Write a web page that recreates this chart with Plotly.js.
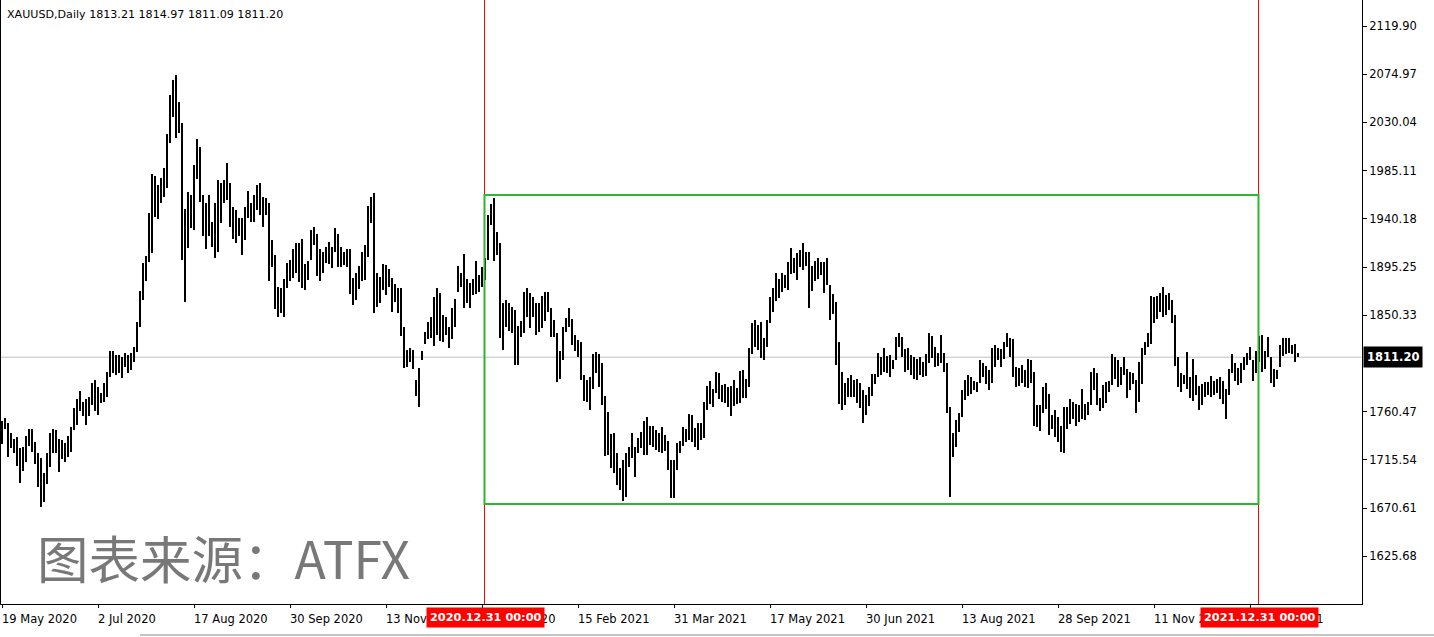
<!DOCTYPE html>
<html><head><meta charset="utf-8">
<script src="https://cdn.plot.ly/plotly-3.0.1.min.js"></script>
<style>html,body{margin:0;padding:0;background:#fff;overflow:hidden}#chart{width:1434px;height:637px}</style>
</head><body><div id="chart"></div>
<script>
// Daily XAUUSD bars, index 0 = 19 May 2020 ... 432 = latest bar
const highs = [
1752.0,1754.8,1749.5,1740.8,1735.2,1736.5,1726.2,1727.8,1737.7,1744.6,
1744.6,1732.4,1722.2,1716.9,1702.9,1721.6,1740.8,1744.6,1743.3,1735.2,
1734.0,1730.9,1737.7,1746.4,1763.5,1771.9,1780.0,1769.4,1772.5,1773.8,
1786.8,1789.9,1783.7,1778.1,1787.4,1797.4,1817.3,1816.6,1813.5,1813.5,
1811.7,1814.8,1813.2,1815.4,1821.0,1844.3,1872.9,1898.7,1905.5,1945.3,
1982.0,1980.1,1971.4,1977.9,1987.2,2019.2,2055.6,2069.6,2073.9,2049.4,
2029.2,1949.0,1965.5,1962.4,1990.0,2014.9,2006.8,1962.4,1955.2,1962.4,
1937.5,1954.6,1976.3,1973.2,1976.3,1992.5,1973.2,1951.2,1948.4,1940.6,
1940.6,1950.9,1965.8,1954.6,1962.1,1971.4,1973.3,1960.2,1959.6,1954.6,
1920.5,1906.2,1876.3,1875.4,1883.8,1898.7,1901.8,1911.8,1918.0,1918.0,
1921.1,1898.1,1901.2,1929.8,1932.3,1926.0,1912.4,1909.6,1914.2,1918.6,
1914.2,1931.3,1926.0,1914.2,1909.6,1911.8,1911.8,1884.7,1889.4,1896.1,
1909.5,1915.4,1952.1,1960.8,1964.5,1889.9,1886.2,1898.0,1897.1,1893.0,
1884.6,1879.4,1875.3,1875.3,1839.6,1817.8,1819.4,1817.8,1789.9,1800.8,
1817.2,1834.9,1844.3,1848.9,1867.6,1875.3,1870.7,1850.5,1848.9,1839.6,
1856.7,1865.1,1896.1,1889.3,1907.3,1883.7,1880.0,1883.7,1901.1,1887.7,
1894.9,1903.3,1943.7,1953.9,1959.2,1928.1,1917.3,1862.0,1864.4,1862.0,
1858.2,1855.0,1840.0,1845.0,1872.2,1875.3,1870.7,1867.6,1861.3,1862.0,
1868.0,1872.0,1872.2,1856.7,1845.8,1834.0,1817.0,1839.6,1847.4,1856.7,
1847.0,1832.0,1827.2,1825.6,1794.6,1789.9,1792.4,1814.1,1816.3,1814.1,
1805.4,1775.0,1760.4,1739.6,1740.8,1721.6,1707.6,1715.3,1721.6,1727.1,
1740.8,1727.8,1735.5,1741.8,1752.0,1755.7,1747.0,1747.0,1743.3,1740.2,
1745.8,1738.6,1733.4,1715.3,1715.3,1730.9,1733.4,1746.0,1743.9,1758.5,
1757.3,1744.8,1749.5,1749.5,1769.7,1784.3,1789.3,1781.2,1797.7,1796.7,
1785.2,1786.2,1783.7,1784.3,1789.9,1782.1,1798.6,1799.2,1790.5,1819.4,
1842.7,1845.8,1841.2,1844.3,1828.7,1845.8,1867.6,1875.3,1889.9,1883.7,
1889.3,1887.8,1900.2,1912.6,1903.8,1908.0,1911.1,1917.3,1909.5,1909.5,
1896.1,1901.1,1903.3,1900.2,1900.2,1903.3,1878.4,1870.0,1862.9,1825.6,
1797.7,1786.8,1791.4,1794.5,1789.9,1790.5,1786.8,1780.6,1775.9,1783.0,
1795.5,1795.5,1814.7,1811.6,1819.4,1812.3,1813.2,1808.5,1830.3,1834.0,
1830.0,1819.0,1820.0,1813.3,1811.7,1809.2,1811.7,1807.0,1814.0,1833.5,
1831.0,1821.0,1814.8,1831.9,1815.0,1805.5,1764.5,1740.7,1752.7,1758.9,
1780.6,1790.0,1794.6,1792.5,1789.0,1788.4,1808.6,1806.1,1803.0,1799.3,
1819.5,1822.6,1819.5,1818.6,1825.0,1834.1,1828.8,1827.9,1802.4,1800.8,
1804.0,1799.3,1809.2,1808.6,1797.7,1766.7,1766.7,1783.1,1786.9,1776.9,
1757.3,1762.0,1755.2,1747.1,1764.5,1764.5,1771.9,1769.8,1767.6,1766.7,
1781.3,1767.6,1769.8,1797.7,1800.8,1796.8,1772.9,1785.3,1788.4,1789.3,
1814.2,1811.1,1808.6,1802.0,1811.1,1800.3,1797.2,1796.7,1789.9,1807.0,
1819.4,1825.6,1833.4,1868.2,1867.6,1868.2,1870.7,1876.3,1869.1,1870.7,
1864.5,1850.5,1811.6,1796.7,1794.5,1816.3,1793.0,1809.2,1794.5,1784.3,
1786.2,1788.3,1788.3,1793.6,1789.3,1790.5,1792.4,1788.8,1781.3,1799.8,
1814.5,1805.5,1801.2,1805.5,1811.1,1814.8,1820.4,1808.6,1817.3,1831.0,
1831.9,1817.3,1830.4,1811.7,1799.9,1799.3,1822.6,1828.8,1828.8,1828.8,
1822.6,1823.5,1814.97];
const lows = [
1730.0,1743.9,1718.5,1726.2,1721.6,1709.8,1694.2,1705.4,1713.8,1728.4,
1723.1,1711.6,1690.5,1671.2,1676.5,1693.0,1708.5,1722.2,1722.2,1704.5,
1716.6,1713.8,1718.5,1722.8,1743.3,1748.0,1761.3,1756.7,1747.7,1756.4,
1766.6,1761.3,1757.3,1768.2,1769.7,1773.8,1792.4,1796.1,1794.3,1796.1,
1791.5,1802.3,1796.1,1799.3,1807.0,1816.3,1839.6,1864.5,1882.5,1900.2,
1908.0,1941.6,1939.7,1955.2,1960.8,1968.6,2010.5,2035.4,2015.8,2019.8,
1901.8,1862.6,1912.7,1931.3,1929.7,1977.0,1956.2,1924.1,1911.7,1924.1,
1914.2,1903.3,1909.6,1935.9,1954.6,1957.7,1932.8,1921.0,1917.5,1924.3,
1906.5,1920.5,1940.6,1936.9,1936.9,1948.4,1943.8,1932.9,1943.8,1882.2,
1895.0,1855.8,1848.4,1852.7,1848.4,1875.4,1882.5,1884.7,1889.4,1881.6,
1875.4,1873.9,1883.2,1901.8,1915.8,1886.9,1882.5,1889.4,1898.7,1898.1,
1894.0,1909.6,1895.6,1895.0,1897.2,1895.0,1870.1,1859.9,1864.5,1874.4,
1882.5,1883.1,1904.2,1935.9,1852.0,1858.2,1861.3,1873.8,1869.1,1876.9,
1853.6,1862.9,1852.6,1830.9,1800.8,1801.7,1807.0,1799.8,1775.0,1765.0,
1808.5,1823.4,1827.8,1828.7,1821.6,1831.8,1826.5,1825.6,1831.8,1819.4,
1827.8,1839.6,1872.2,1876.9,1856.7,1861.3,1856.7,1869.1,1870.0,1872.2,
1876.3,1883.1,1901.7,1934.4,1901.1,1906.4,1828.7,1817.5,1839.6,1836.0,
1834.0,1803.9,1804.0,1830.0,1834.0,1848.3,1838.0,1848.9,1831.8,1835.0,
1838.0,1845.0,1853.6,1830.3,1830.3,1788.0,1791.0,1808.5,1834.9,1839.6,
1823.0,1817.0,1811.7,1789.9,1770.6,1769.7,1762.0,1781.2,1796.1,1783.7,
1766.6,1719.1,1720.0,1707.6,1702.9,1692.0,1687.4,1677.4,1680.5,1709.1,
1716.9,1699.8,1722.2,1726.2,1720.0,1720.0,1729.3,1727.8,1724.7,1723.1,
1722.2,1724.0,1706.0,1679.6,1679.6,1706.0,1722.2,1728.0,1732.0,1734.0,
1732.4,1727.7,1724.6,1733.9,1735.5,1761.9,1767.5,1765.0,1777.5,1771.9,
1769.7,1768.8,1765.0,1756.3,1765.7,1767.5,1768.8,1772.8,1772.8,1783.7,
1814.1,1820.3,1817.8,1810.1,1808.5,1820.3,1843.3,1853.6,1863.8,1866.0,
1872.2,1875.3,1873.8,1888.5,1889.9,1882.8,1895.2,1892.4,1896.1,1856.7,
1873.1,1882.5,1883.7,1887.8,1870.7,1878.4,1845.8,1851.4,1803.9,1767.5,
1761.9,1766.6,1773.7,1774.4,1774.4,1768.1,1763.5,1750.1,1757.3,1765.7,
1775.0,1786.2,1793.0,1794.5,1797.7,1796.1,1792.4,1799.8,1808.5,1820.3,
1811.0,1797.0,1799.0,1794.6,1790.6,1790.0,1794.6,1792.5,1794.0,1806.1,
1810.2,1801.8,1803.0,1806.1,1797.5,1759.5,1680.5,1718.5,1727.2,1741.8,
1755.8,1771.3,1775.1,1776.9,1780.6,1779.0,1786.9,1792.5,1786.2,1780.6,
1786.9,1802.4,1808.6,1802.4,1809.2,1821.0,1811.7,1792.5,1783.8,1784.4,
1787.5,1783.8,1782.2,1786.9,1747.1,1746.5,1742.7,1759.5,1762.6,1738.7,
1744.0,1737.1,1732.5,1723.2,1722.2,1744.0,1749.0,1753.3,1747.1,1751.1,
1753.3,1752.7,1757.3,1766.7,1780.6,1766.7,1761.4,1763.6,1768.2,1779.1,
1785.3,1790.6,1783.8,1785.0,1795.0,1773.3,1780.6,1786.2,1759.4,1769.7,
1786.2,1813.2,1821.0,1823.5,1842.7,1846.4,1853.6,1848.9,1850.5,1855.1,
1842.7,1802.9,1783.1,1779.0,1786.2,1781.2,1772.8,1770.6,1775.9,1761.9,
1766.6,1774.4,1775.9,1773.7,1775.9,1777.5,1771.9,1767.4,1753.3,1775.9,
1796.7,1789.1,1785.7,1787.5,1799.3,1804.0,1808.6,1789.3,1796.8,1807.1,
1797.7,1799.9,1811.7,1786.9,1783.1,1790.6,1801.8,1812.3,1814.2,1814.8,
1814.2,1807.1,1811.09];

const xTickIdx  = [0,32,64,96,128,160,192,224,256,288,320,352,384,416];
const xTickText = ["19 May 2020","2 Jul 2020","17 Aug 2020","30 Sep 2020","13 Nov 2020","30 Dec 2020",
                   "15 Feb 2021","31 Mar 2021","17 May 2021","30 Jun 2021","13 Aug 2021","28 Sep 2021",
                   "11 Nov 2021","28 Dec 2021"];
const yTickVals = [2119.90,2074.97,2030.04,1985.11,1940.18,1895.25,1850.33,1760.47,1715.54,1670.61,1625.68];
const yTickText = ["2119.90","2074.97","2030.04","1985.11","1940.18","1895.25","1850.33","1760.47","1715.54","1670.61","1625.68"];
const headerText = "XAUUSD,Daily 1813.21 1814.97 1811.09 1811.20";
const bidPrice = 1811.20;
const bidText = "1811.20";
const vlineIdx  = [161, 419];
const vlineText = ["2020.12.31 00:00", "2021.12.31 00:00"];
const boxStartIdx = 161, boxEndIdx = 419, boxTop = 1962.4, boxBottom = 1674.4;
const watermark = "图表来源：ATFX";

const xs = highs.map((_, i) => i);
const spans = highs.map((h, i) => h - lows[i]);

const FONT = 'DejaVu Sans';
const trace = {
  type: 'bar', x: xs, y: spans, base: lows, width: 0.67,
  marker: {color: '#000000', line: {width: 0}},
  hoverinfo: 'skip'
};

const shapes = [
  {type:'line', xref:'paper', x0:0, x1:1, yref:'y', y0:bidPrice, y1:bidPrice,
   line:{color:'#c0c0c0', width:1}, layer:'below'}
];
vlineIdx.forEach(i => shapes.push({type:'line', xref:'x', x0:i-0.17, x1:i-0.17, yref:'paper', y0:0, y1:1,
   line:{color:'#ff0000', width:1}}));
shapes.push({type:'rect', xref:'x', x0:boxStartIdx-0.17, x1:boxEndIdx-0.17, yref:'y', y0:boxBottom, y1:boxTop,
   line:{color:'#2fb52f', width:2}, fillcolor:'rgba(0,0,0,0)'});
// window edge line under the time scale
shapes.push({type:'line', xref:'paper', yref:'paper', x0:139/1361, x1:1434/1361, y0:-31/604, y1:-31/604,
   line:{color:'#8a8a8a', width:1}});

const annotations = [];
annotations.push({xref:'paper', yref:'paper', x:0, y:1-14/604, xanchor:'left', yanchor:'middle', xshift:4,
  text: headerText, showarrow:false, font:{family:FONT, size:11.1, color:'#000'}});
xTickIdx.forEach((i, k) => annotations.push({xref:'x', yref:'paper', x:i, y:0, xanchor:'left', yanchor:'top',
  xshift:-2, yshift:-6, text:xTickText[k], showarrow:false, font:{family:FONT, size:11.5, color:'#000'}}));
vlineIdx.forEach((i, k) => annotations.push({xref:'x', yref:'paper', x:i, y:0, xanchor:'center', yanchor:'top',
  yshift:-3, text:'<b>'+vlineText[k]+'</b>', showarrow:false, bgcolor:'#ff0000', borderpad:3,
  font:{family:FONT, size:11.3, color:'#ffffff'}}));
annotations.push({xref:'paper', yref:'y', x:1, y:bidPrice, xanchor:'left', yanchor:'middle', xshift:1,
  text:'<b>'+bidText+'</b>', showarrow:false, bgcolor:'#000000', borderpad:3,
  font:{family:FONT, size:11.5, color:'#ffffff'}});
annotations.push({xref:'paper', yref:'paper', x:0, y:1-556/604, xanchor:'left', yanchor:'middle', xshift:34,
  text:watermark, showarrow:false, font:{family:'Noto Sans CJK SC', size:51.5, color:'rgba(105,105,105,0.9)'}});

const layout = {
  width:1434, height:637,
  margin:{l:1, r:72, t:0, b:33, pad:0},
  paper_bgcolor:'#ffffff', plot_bgcolor:'#ffffff',
  showlegend:false, bargap:0,
  xaxis:{range:[-1/3, 453.333], showgrid:false, zeroline:false, showline:true, mirror:true,
         linecolor:'#000', linewidth:1, tickvals:xTickIdx, ticks:'outside', ticklen:3, tickcolor:'#000',
         showticklabels:false, fixedrange:true},
  yaxis:{range:[1581.14, 2144.14], side:'right', showgrid:false, zeroline:false, showline:true, mirror:true,
         linecolor:'#000', linewidth:1, tickvals:yTickVals, ticktext:yTickText, ticks:'outside', ticklen:4,
         tickcolor:'#000', tickfont:{family:FONT, size:11.5, color:'#000'}, fixedrange:true},
  shapes: shapes,
  annotations: annotations
};
Plotly.newPlot('chart', [trace], layout, {staticPlot:true, displayModeBar:false});
</script></body></html>
